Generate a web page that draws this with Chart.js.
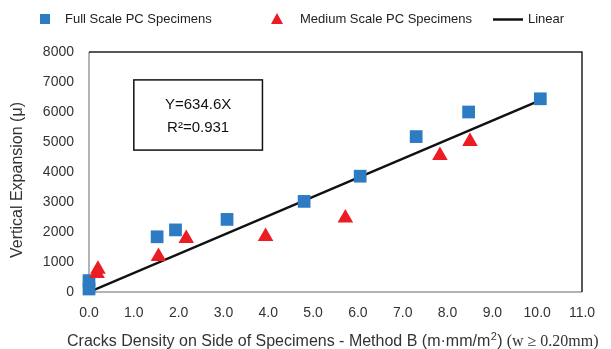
<!DOCTYPE html>
<html><head><meta charset="utf-8">
<script src="https://cdn.jsdelivr.net/npm/chart.js@4/dist/chart.umd.min.js"></script>
<style>html,body{margin:0;padding:0;background:#fff}#w{width:611px;height:349px}</style>
</head><body><div id="w"><canvas id="c"></canvas></div>
<script>
const fullX = [0.0, 0.0, 1.52, 1.93, 3.08, 4.8, 6.05, 7.3, 8.47, 10.07];
const fullY = [100, 380, 1840, 2070, 2420, 3020, 3860, 5180, 6000, 6440];
const medX = [0.2, 0.18, 1.55, 2.17, 3.94, 5.72, 7.83, 8.5];
const medY = [760, 620, 1180, 1780, 1850, 2470, 4550, 5020];
const lineX = [0.0, 10.05];
const slope = 634.6;
const xTicks = [0,1,2,3,4,5,6,7,8,9,10,11];
const yTicks = [0,1000,2000,3000,4000,5000,6000,7000,8000];
const legendLabels = ['Full Scale PC Specimens', 'Medium Scale PC Specimens', 'Linear'];
const eqText = ['Y=634.6X', 'R²=0.931'];
const yTitle = 'Vertical Expansion (\u03bc)';
const xTitleA = 'Cracks Density on Side of Specimens - Method B (m\u00b7mm/m';
const xTitleSup = '2';
const xTitleC = ')';
const xTitleD = ' (w \u2265 0.20mm)';

const BLUE = '#2C7BC3', RED = '#EC1C24';
const SANS = '"Liberation Sans", Arial, sans-serif';
const SERIF = '"Liberation Serif", "Times New Roman", serif';

const toPts = (xs, ys) => xs.map((x, i) => ({x, y: ys[i]}));

const deco = {
  id: 'deco',
  beforeDatasetsDraw(chart) {
    const {ctx, chartArea: a} = chart;
    ctx.save();
    ctx.lineWidth = 1.5;
    ctx.strokeStyle = '#9a9a9a';
    ctx.beginPath(); ctx.moveTo(a.left, a.top); ctx.lineTo(a.left, a.bottom); ctx.lineTo(a.right, a.bottom); ctx.stroke();
    ctx.strokeStyle = '#222';
    ctx.beginPath(); ctx.moveTo(a.left, a.top); ctx.lineTo(a.right, a.top); ctx.lineTo(a.right, a.bottom); ctx.stroke();
    // equation box
    const xs = chart.scales.x, ys = chart.scales.y;
    const l = xs.getPixelForValue(1.0), r = xs.getPixelForValue(3.87);
    const t = ys.getPixelForValue(7070), b = ys.getPixelForValue(4730);
    ctx.lineWidth = 1.5; ctx.strokeStyle = '#111';
    ctx.strokeRect(l, t, r - l, b - t);
    ctx.fillStyle = '#111'; ctx.font = '15px ' + SANS; ctx.textAlign = 'center'; ctx.textBaseline = 'middle';
    const cx = (l + r) / 2;
    ctx.fillText(eqText[0], cx, t + 25);
    ctx.fillText(eqText[1], cx, t + 48);
    ctx.restore();
  },
  afterDraw(chart) {
    const {ctx} = chart;
    ctx.save();
    // legend
    ctx.font = '13px ' + SANS; ctx.textBaseline = 'middle'; ctx.textAlign = 'left';
    ctx.fillStyle = BLUE; ctx.fillRect(40, 14, 10, 10);
    ctx.fillStyle = '#222'; ctx.fillText(legendLabels[0], 65, 19);
    ctx.fillStyle = RED; ctx.beginPath(); ctx.moveTo(277, 13); ctx.lineTo(283, 24); ctx.lineTo(271, 24); ctx.closePath(); ctx.fill();
    ctx.fillStyle = '#222'; ctx.fillText(legendLabels[1], 300, 19);
    ctx.strokeStyle = '#111'; ctx.lineWidth = 2.5; ctx.beginPath(); ctx.moveTo(493, 19.5); ctx.lineTo(523, 19.5); ctx.stroke();
    ctx.fillText(legendLabels[2], 528, 19);
    // y title
    ctx.save(); ctx.translate(18, 180); ctx.rotate(-Math.PI/2);
    ctx.textAlign = 'center'; ctx.font = '16px ' + SANS; ctx.fillStyle = '#333';
    ctx.fillText(yTitle, 0, 0); ctx.restore();
    // x title
    ctx.fillStyle = '#333'; ctx.textBaseline = 'alphabetic';
    let sx = 67; const by = 346;
    ctx.font = '16px ' + SANS; ctx.fillText(xTitleA, sx, by); sx += ctx.measureText(xTitleA).width;
    ctx.font = '11px ' + SANS; ctx.fillText(xTitleSup, sx + 0.5, by - 6); sx += ctx.measureText(xTitleSup).width + 1;
    ctx.font = '16px ' + SANS; ctx.fillText(xTitleC, sx, by); sx += ctx.measureText(xTitleC).width;
    ctx.font = '16px ' + SERIF; ctx.fillText(xTitleD, sx, by);
    ctx.restore();
  }
};

new Chart(document.getElementById('c'), {
  type: 'scatter',
  data: {
    datasets: [
      {label: legendLabels[0], data: toPts(fullX, fullY), pointStyle: 'rect', pointRadius: 9, pointHoverRadius: 9,
       backgroundColor: BLUE, borderColor: BLUE, borderWidth: 0, order: 2, clip: false},
      {label: legendLabels[1], data: toPts(medX, medY), pointStyle: 'triangle', pointRadius: 9, pointHoverRadius: 9,
       backgroundColor: RED, borderColor: RED, borderWidth: 0, order: 1, clip: false},
      {label: legendLabels[2], type: 'line', data: lineX.map(x => ({x, y: slope * x})), showLine: true,
       borderColor: '#111', borderWidth: 2.5, pointRadius: 0, fill: false, order: 3}
    ]
  },
  options: {
    responsive: true, maintainAspectRatio: false, animation: false,
    layout: {padding: {top: 52, right: 29, left: 0, bottom: 0}},
    plugins: {legend: {display: false}, tooltip: {enabled: false}},
    scales: {
      x: {type: 'linear', min: 0, max: 11,
          afterBuildTicks: s => { s.ticks = xTicks.map(v => ({value: v})); },
          afterFit: s => { s.height = 57; },
          grid: {display: false, drawTicks: false}, border: {display: false},
          ticks: {padding: 13, color: '#333', font: {family: SANS, size: 14}, callback: v => Number(v).toFixed(1)}},
      y: {type: 'linear', min: 0, max: 8000,
          afterBuildTicks: s => { s.ticks = yTicks.map(v => ({value: v})); },
          afterFit: s => { s.width = 89; },
          grid: {display: false, drawTicks: false}, border: {display: false},
          ticks: {padding: 15, color: '#333', font: {family: SANS, size: 14}, callback: v => String(v)}}
    }
  },
  plugins: [deco]
});
</script></body></html>
